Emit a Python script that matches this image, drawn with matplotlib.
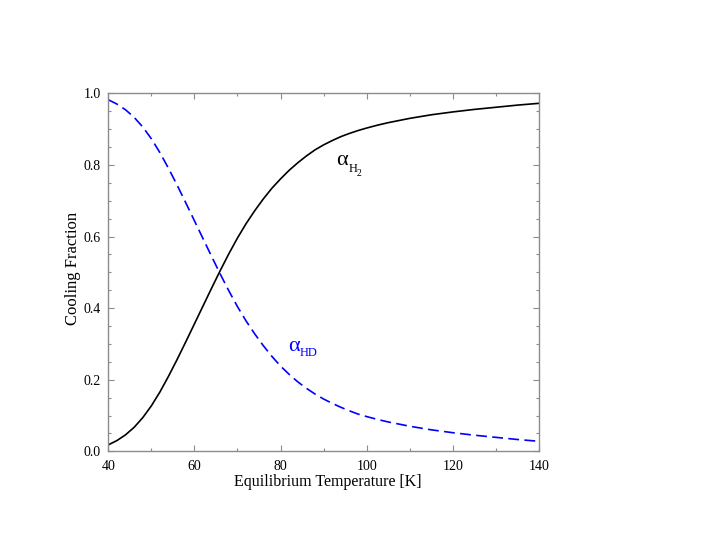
import matplotlib
matplotlib.use("Agg")
import matplotlib.pyplot as plt
from matplotlib.ticker import MultipleLocator, FormatStrFormatter

temperature = [40, 42, 44, 46, 48, 50, 52, 54, 56, 58, 60, 62, 64, 66, 68, 70,
               72, 74, 76, 78, 80, 82, 84, 86, 88, 90, 92, 94, 96, 98, 100,
               102.5, 105, 107.5, 110, 115, 120, 125, 130, 135, 140]
alpha_h2 = [0.018, 0.030, 0.046, 0.067, 0.094, 0.127, 0.166, 0.210, 0.257,
            0.306, 0.356, 0.406, 0.456, 0.505, 0.552, 0.596, 0.636, 0.672,
            0.705, 0.735, 0.761, 0.785, 0.806, 0.825, 0.842, 0.856, 0.868,
            0.879, 0.888, 0.896, 0.903, 0.911, 0.918, 0.924, 0.930, 0.940,
            0.948, 0.955, 0.961, 0.967, 0.972]
alpha_hd = [0.982, 0.970, 0.954, 0.933, 0.906, 0.873, 0.834, 0.790, 0.743,
            0.694, 0.644, 0.594, 0.544, 0.495, 0.448, 0.404, 0.364, 0.328,
            0.295, 0.265, 0.238, 0.215, 0.194, 0.176, 0.160, 0.146, 0.134,
            0.123, 0.113, 0.104, 0.097, 0.089, 0.082, 0.076, 0.070, 0.060,
            0.052, 0.045, 0.039, 0.033, 0.028]

x_label = "Equilibrium Temperature [K]"
y_label = "Cooling Fraction"

plt.rcParams['font.family'] = ['Liberation Serif', 'DejaVu Serif']

fig = plt.figure(figsize=(7.05, 5.45), dpi=100)
ax = fig.add_axes([0.1536, 0.1719, 0.6109, 0.6569])

ax.plot(temperature, alpha_h2, color='black', lw=1.2)
ax.plot(temperature, alpha_hd, color='#0000ff', lw=1.2, dashes=(6.5, 3.2))

ax.set_xlim(40, 140)
ax.set_ylim(0, 1)
ax.xaxis.set_major_locator(MultipleLocator(20))
ax.xaxis.set_minor_locator(MultipleLocator(10))
ax.yaxis.set_major_locator(MultipleLocator(0.2))
ax.yaxis.set_minor_locator(MultipleLocator(0.05))
ax.xaxis.set_major_formatter(FormatStrFormatter('%d'))
ax.yaxis.set_major_formatter(FormatStrFormatter('%.1f'))

gray = '#8c8c8c'
for s in ax.spines.values():
    s.set_color(gray)
    s.set_linewidth(1.0)
ax.tick_params(which='both', direction='in', top=True, right=True,
               color=gray, labelsize=10)
ax.tick_params(axis='x', which='both', pad=6.5)
ax.tick_params(axis='y', which='both', pad=5.5)
ax.tick_params(which='major', length=4.5, width=0.8)
ax.tick_params(which='minor', length=2.5, width=0.8)

ax.set_xlabel(x_label, fontsize=11.5)
ax.set_ylabel(y_label, fontsize=12)
ax.xaxis.set_label_coords(0.509, -0.062)
ax.yaxis.set_label_coords(-0.063, 0.512)

# curve labels
a1 = ax.text(93.0, 0.80, "α", fontsize=16, color='black',
             va='baseline', ha='left')
h1 = ax.annotate("H", xy=(1.0, 0.781), xycoords=(a1, 'data'), fontsize=9,
                 color='black', va='baseline', ha='left')
ax.annotate("2", xy=(1.0, 0.770), xycoords=(h1, 'data'), fontsize=7,
            color='black', va='baseline', ha='left')

a2 = ax.text(81.7, 0.281, "α", fontsize=16, color='#0000ff',
             va='baseline', ha='left')
ax.annotate("HD", xy=(1.0, 0.266), xycoords=(a2, 'data'), fontsize=9,
            color='#0000ff', va='baseline', ha='left')

fig.savefig("out.png", dpi=100)
